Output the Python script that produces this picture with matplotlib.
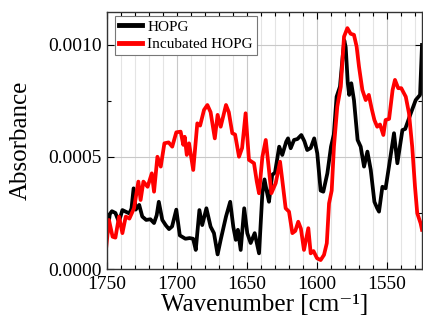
import numpy as np
import matplotlib.pyplot as plt
from matplotlib.ticker import MultipleLocator, FormatStrFormatter

plt.rcParams['font.family'] = ['Liberation Serif', 'DejaVu Serif']
plt.rcParams['mathtext.fontset'] = 'stix'

# HOPG spectrum (wavenumber, absorbance)
hopg_wn = [1750, 1748, 1746.5, 1744, 1741.5, 1739, 1736.7, 1734, 1732.5, 1731,
           1729.5, 1727, 1724.8, 1722, 1719, 1716.4, 1714.5, 1713, 1710.5, 1708,
           1705.7, 1703.5, 1700.5, 1698, 1694, 1691, 1688.5, 1686.6, 1684, 1682,
           1679, 1676, 1673.6, 1671, 1668.8, 1665, 1662, 1659.8, 1658, 1656.5,
           1654.5, 1652, 1649.8, 1647.4, 1644.5, 1641.4, 1639, 1637.5, 1636, 1634.3,
           1632, 1630, 1627, 1624.8, 1622, 1620.7, 1618.8, 1616.4, 1614, 1611.2,
           1609, 1607, 1604.5, 1602, 1599.8, 1597.4, 1595.5, 1592.6, 1590, 1588,
           1586, 1583.6, 1581.5, 1580.5, 1579.5, 1578, 1577, 1575.5, 1573.6, 1571,
           1568.8, 1566.4, 1564, 1561.6, 1559, 1557, 1555.7, 1553.3, 1551, 1548.6,
           1545, 1542.6, 1539, 1537, 1533, 1529.5, 1526.4, 1525]
hopg_abs = [0.000150, 0.000245, 0.000258, 0.000250, 0.000210, 0.000263, 0.000256, 0.000248, 0.000270, 0.000360,
            0.000265, 0.000286, 0.000234, 0.000219, 0.000222, 0.000205, 0.000240, 0.000300, 0.000219, 0.000195,
            0.000178, 0.000190, 0.000265, 0.000150, 0.000135, 0.000138, 0.000135, 0.000085, 0.000263, 0.000196,
            0.000271, 0.000189, 0.000160, 0.000065, 0.000130, 0.000234, 0.000300, 0.000189, 0.000130, 0.000175,
            0.000085, 0.000271, 0.000160, 0.000116, 0.000160, 0.000070, 0.000340, 0.000400, 0.000350, 0.000300,
            0.000420, 0.000430, 0.000546, 0.000509, 0.000568, 0.000583, 0.000539, 0.000576, 0.000580, 0.000598,
            0.000570, 0.000531, 0.000540, 0.000583, 0.000516, 0.000350, 0.000345, 0.000427, 0.000546, 0.000600,
            0.000769, 0.000814, 0.000960, 0.001020, 0.000990, 0.000829, 0.000777, 0.000829, 0.000754, 0.000576,
            0.000546, 0.000457, 0.000524, 0.000442, 0.000300, 0.000271, 0.000256, 0.000367, 0.000360, 0.000457,
            0.000606, 0.000472, 0.000620, 0.000625, 0.000695, 0.000754, 0.000777, 0.001000]

# Incubated HOPG spectrum
inc_wn = [1750.5, 1748.6, 1746, 1744, 1741.4, 1739, 1736.6, 1734, 1730.7, 1727.6,
          1726, 1724, 1721, 1718, 1716.4, 1714, 1711.6, 1709, 1706, 1703.4,
          1700.5, 1697.4, 1695.5, 1694.5, 1693, 1691.4, 1688.4, 1685.5, 1683.5, 1680.7,
          1678.3, 1676, 1673, 1671, 1668.8, 1665, 1663, 1660.5, 1658.5, 1655.7,
          1653.5, 1651, 1648.6, 1645, 1643, 1641.4, 1639, 1636.6, 1634.3, 1632.6,
          1629.5, 1626.4, 1624.8, 1622.4, 1620, 1617.6, 1615.5, 1613.4, 1611.5, 1609.3,
          1606.2, 1604.5, 1602.5, 1600, 1597.4, 1595, 1593, 1591.4, 1589.5, 1587.9,
          1585.5, 1583, 1580.7, 1578.3, 1576, 1573.6, 1571.7, 1570, 1567.6, 1565.2,
          1563, 1561, 1559, 1557, 1555, 1552.6, 1551, 1548.5, 1546, 1544.3,
          1542, 1539.8, 1536.6, 1534.3, 1532, 1530, 1528.4, 1526, 1525]
inc_abs = [0.000100, 0.000219, 0.000144, 0.000140, 0.000234, 0.000160, 0.000234, 0.000225, 0.000271, 0.000390,
           0.000308, 0.000390, 0.000367, 0.000427, 0.000345, 0.000501, 0.000457, 0.000561, 0.000565, 0.000546,
           0.000610, 0.000613, 0.000554, 0.000590, 0.000509, 0.000561, 0.000442, 0.000650, 0.000640, 0.000710,
           0.000732, 0.000700, 0.000583, 0.000688, 0.000635, 0.000732, 0.000700, 0.000606, 0.000600, 0.000501,
           0.000540, 0.000695, 0.000487, 0.000472, 0.000390, 0.000338, 0.000501, 0.000576, 0.000442, 0.000338,
           0.000383, 0.000479, 0.000397, 0.000271, 0.000256, 0.000160, 0.000170, 0.000211, 0.000180, 0.000085,
           0.000182, 0.000070, 0.000080, 0.000048, 0.000040, 0.000063, 0.000115, 0.000293, 0.000350, 0.000546,
           0.000725, 0.000814, 0.001037, 0.001075, 0.001050, 0.001045, 0.000993, 0.000903, 0.000799, 0.000754,
           0.000777, 0.000717, 0.000665, 0.000635, 0.000645, 0.000598, 0.000665, 0.000670, 0.000799, 0.000844,
           0.000807, 0.000807, 0.000769, 0.000695, 0.000546, 0.000367, 0.000249, 0.000204, 0.000175]

fig = plt.figure(figsize=(4.23, 3.2), dpi=100)
ax = fig.add_axes([107/423, 1-269/320, 315/423, 257/320])

ax.plot(hopg_wn, hopg_abs, color='black', lw=2.7, label='HOPG')
ax.plot(inc_wn, inc_abs, color='red', lw=2.7, label='Incubated HOPG')

ax.set_xlim(1750, 1525)
ax.set_ylim(0, 0.001147)
ax.xaxis.set_major_locator(MultipleLocator(50))
ax.xaxis.set_minor_locator(MultipleLocator(10))
ax.yaxis.set_major_locator(MultipleLocator(0.0005))
ax.yaxis.set_minor_locator(MultipleLocator(0.00025))
ax.yaxis.set_major_formatter(FormatStrFormatter('%.4f'))

ax.grid(True, which='major', axis='both', color='#c8c8c8', lw=0.8)
ax.grid(True, which='minor', axis='x', color='#e4e4e4', lw=0.8)
ax.set_axisbelow(True)

ax.tick_params(which='both', direction='in', top=True, right=True, labelsize=14)
ax.tick_params(axis='x', pad=5)
ax.tick_params(axis='y', pad=4)
ax.tick_params(which='major', length=5, width=0.8)
ax.tick_params(which='minor', length=3, width=0.8)
for s in ax.spines.values():
    s.set_color('#333333')
    s.set_linewidth(1.0)

ax.set_xlabel('Wavenumber [cm\u207b\u00b9]', fontsize=18)
ax.xaxis.set_label_coords(0.5, -0.097)
ax.set_ylabel('Absorbance', fontsize=18)
ax.yaxis.set_label_coords(-0.24, 0.5)

leg = ax.legend(loc='upper left', bbox_to_anchor=(8/315, 1-4/257), borderaxespad=0,
                fontsize=11, handlelength=1.5, handletextpad=0.35, labelspacing=0.25,
                borderpad=0.25, fancybox=False, framealpha=1, edgecolor='#777777')
leg.get_frame().set_linewidth(0.8)
for h in leg.get_lines():
    h.set_linewidth(3.5)

fig.savefig('out.png', dpi=100)
